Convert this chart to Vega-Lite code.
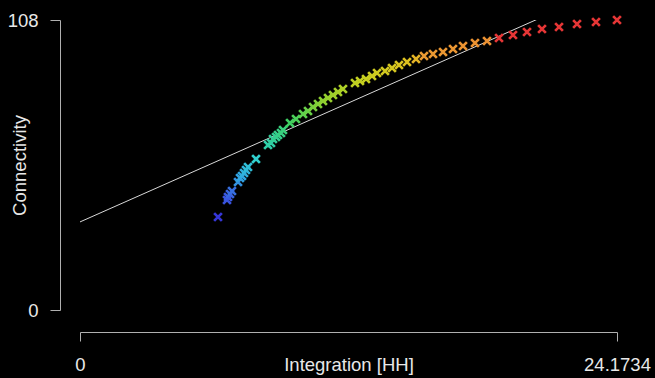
{
  "$schema": "https://vega.github.io/schema/vega-lite/v6.json",
  "autosize": "none",
  "width": 537,
  "height": 290,
  "padding": {"left": 80, "top": 20, "right": 38, "bottom": 68},
  "background": "#000000",
  "config": {
    "view": {"stroke": null},
    "font": "Liberation Sans",
    "axis": {
      "grid": false,
      "domainColor": "#b0b0b0",
      "tickColor": "#b0b0b0",
      "domainWidth": 1,
      "tickWidth": 1,
      "labelColor": "#e8e8e8",
      "titleColor": "#e8e8e8",
      "labelFont": "Liberation Sans",
      "titleFont": "Liberation Sans",
      "labelFontSize": 18.5,
      "titleFontSize": 18.5,
      "titleFontWeight": "normal",
      "labelFlush": false,
      "labelOverlap": false
    }
  },
  "datasets": {
    "points": [
      {"Integration": 6.212, "Connectivity": 34.63},
      {"Integration": 6.617, "Connectivity": 40.97},
      {"Integration": 6.662, "Connectivity": 42.08},
      {"Integration": 6.752, "Connectivity": 43.20},
      {"Integration": 6.842, "Connectivity": 44.32},
      {"Integration": 7.113, "Connectivity": 47.67},
      {"Integration": 7.203, "Connectivity": 49.16},
      {"Integration": 7.293, "Connectivity": 49.90},
      {"Integration": 7.383, "Connectivity": 51.02},
      {"Integration": 7.473, "Connectivity": 52.14},
      {"Integration": 7.563, "Connectivity": 53.25},
      {"Integration": 7.923, "Connectivity": 56.23},
      {"Integration": 8.463, "Connectivity": 61.45},
      {"Integration": 8.598, "Connectivity": 62.19},
      {"Integration": 8.688, "Connectivity": 63.68},
      {"Integration": 8.823, "Connectivity": 64.43},
      {"Integration": 8.913, "Connectivity": 65.17},
      {"Integration": 9.048, "Connectivity": 65.92},
      {"Integration": 9.138, "Connectivity": 67.03},
      {"Integration": 9.453, "Connectivity": 69.64},
      {"Integration": 9.723, "Connectivity": 71.13},
      {"Integration": 10.039, "Connectivity": 72.99},
      {"Integration": 10.264, "Connectivity": 74.11},
      {"Integration": 10.489, "Connectivity": 75.60},
      {"Integration": 10.714, "Connectivity": 76.72},
      {"Integration": 10.939, "Connectivity": 77.83},
      {"Integration": 11.164, "Connectivity": 78.95},
      {"Integration": 11.389, "Connectivity": 80.07},
      {"Integration": 11.614, "Connectivity": 81.19},
      {"Integration": 11.839, "Connectivity": 82.30},
      {"Integration": 12.379, "Connectivity": 84.54},
      {"Integration": 12.604, "Connectivity": 85.28},
      {"Integration": 12.875, "Connectivity": 86.03},
      {"Integration": 13.145, "Connectivity": 87.14},
      {"Integration": 13.370, "Connectivity": 88.26},
      {"Integration": 13.730, "Connectivity": 89.01},
      {"Integration": 14.045, "Connectivity": 90.12},
      {"Integration": 14.360, "Connectivity": 91.24},
      {"Integration": 14.720, "Connectivity": 92.36},
      {"Integration": 15.125, "Connectivity": 93.48},
      {"Integration": 15.486, "Connectivity": 94.59},
      {"Integration": 15.891, "Connectivity": 95.34},
      {"Integration": 16.341, "Connectivity": 96.08},
      {"Integration": 16.791, "Connectivity": 97.20},
      {"Integration": 17.241, "Connectivity": 98.32},
      {"Integration": 17.781, "Connectivity": 99.43},
      {"Integration": 18.322, "Connectivity": 100.18},
      {"Integration": 18.862, "Connectivity": 101.30},
      {"Integration": 19.492, "Connectivity": 102.41},
      {"Integration": 20.122, "Connectivity": 103.53},
      {"Integration": 20.797, "Connectivity": 104.65},
      {"Integration": 21.563, "Connectivity": 105.39},
      {"Integration": 22.373, "Connectivity": 106.51},
      {"Integration": 23.228, "Connectivity": 107.25},
      {"Integration": 24.1734, "Connectivity": 108}
    ],
    "fit": [
      {"Integration": 0, "Connectivity": 32.8},
      {"Integration": 20.62, "Connectivity": 108.4}
    ]
  },
  "layer": [
    {
      "data": {"name": "fit"},
      "mark": {"type": "line", "color": "#d8d8d8", "strokeWidth": 1, "clip": true},
      "encoding": {
        "x": {"field": "Integration", "type": "quantitative"},
        "y": {"field": "Connectivity", "type": "quantitative"}
      }
    },
    {
      "data": {"name": "points"},
      "mark": {
        "type": "point",
        "shape": "M-1,-1L1,1M-1,1L1,-1",
        "filled": false,
        "size": 60,
        "strokeWidth": 2.7,
        "opacity": 1
      },
      "encoding": {
        "x": {"field": "Integration", "type": "quantitative"},
        "y": {"field": "Connectivity", "type": "quantitative"},
        "color": {
          "field": "Connectivity",
          "type": "quantitative",
          "legend": null,
          "scale": {
            "domain": [34.6, 42, 50, 56, 63, 70, 78, 86, 93, 94.5, 100.5, 101, 108],
            "range": ["#3636d8", "#3a58e0", "#30a8e0", "#30d0d0", "#30d0a0", "#40d060", "#90d030", "#c8d020", "#e0c020", "#eb9a32", "#eb9032", "#e63636", "#e63636"],
            "interpolate": "rgb"
          }
        }
      }
    }
  ],
  "encoding": {
    "x": {
      "field": "Integration",
      "type": "quantitative",
      "scale": {"domain": [0, 24.1734], "nice": false, "zero": false},
      "axis": {
        "orient": "bottom",
        "offset": 22,
        "values": [0, 24.1734],
        "format": ".6~g",
        "tickSize": 9,
        "labelPadding": 29,
        "labelBaseline": "alphabetic",
        "title": "Integration [HH]",
        "titleY": 38,
        "titleBaseline": "alphabetic"
      }
    },
    "y": {
      "field": "Connectivity",
      "type": "quantitative",
      "scale": {"domain": [0, 108], "nice": false, "zero": false},
      "axis": {
        "orient": "left",
        "offset": 20,
        "values": [0, 108],
        "tickSize": 10,
        "labelPadding": 12,
        "labelBaseline": "middle",
        "title": "Connectivity",
        "titleAngle": -90,
        "titleX": -35,
        "titleY": 145,
        "titleAlign": "center",
        "titleBaseline": "alphabetic"
      }
    }
  }
}
